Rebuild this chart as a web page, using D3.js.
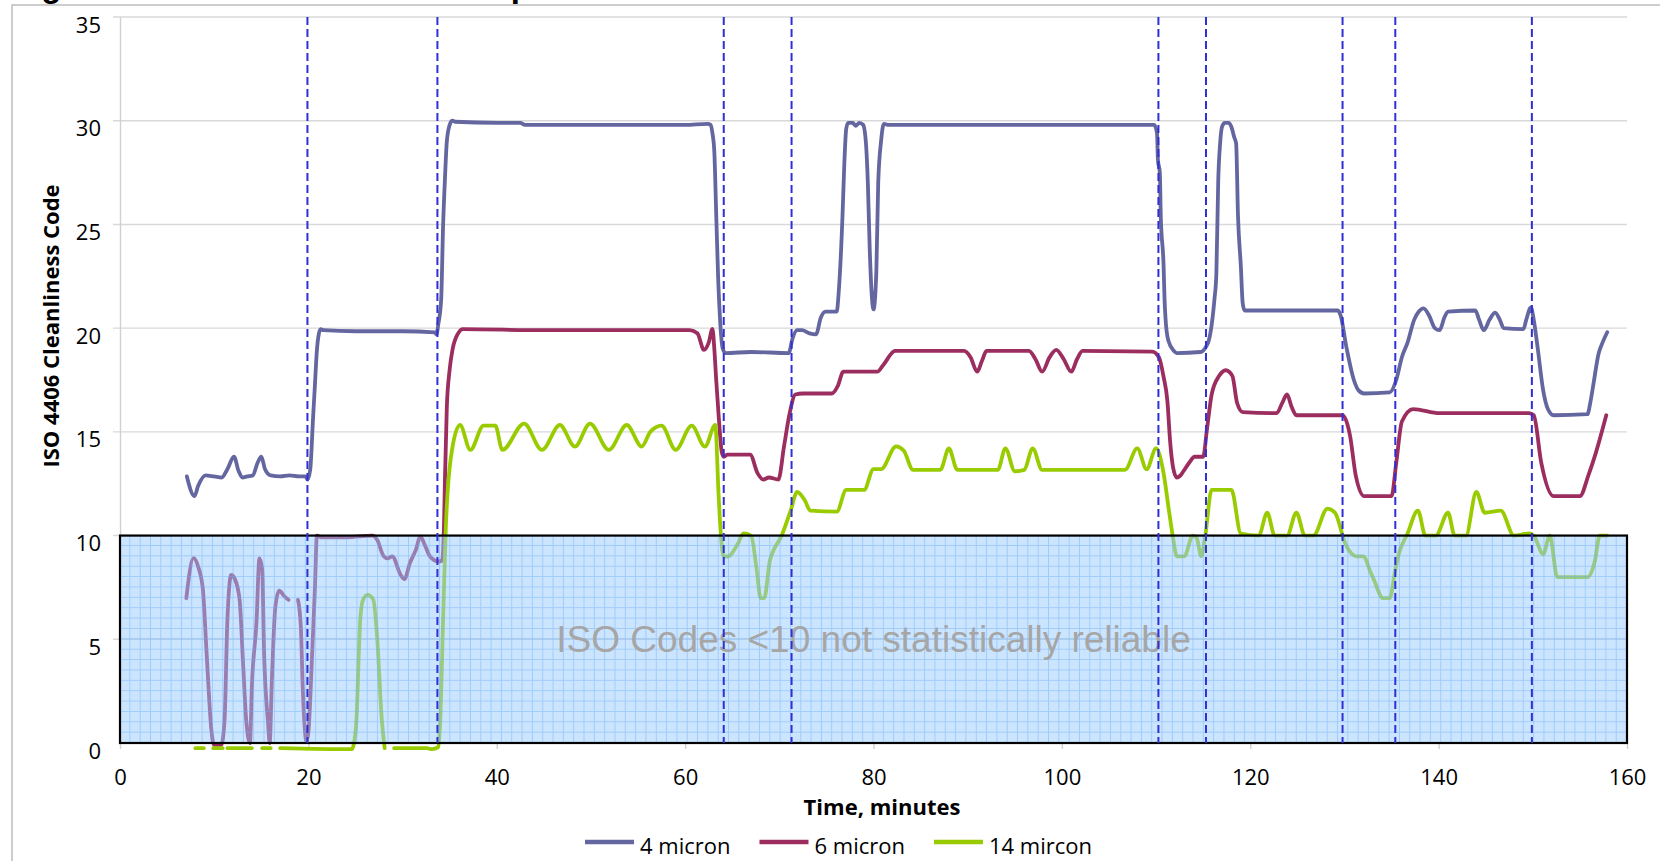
<!DOCTYPE html>
<html>
<head>
<meta charset="utf-8">
<script src="https://cdn.jsdelivr.net/npm/d3@7"></script>
<style>
  html, body { margin: 0; padding: 0; background: #fff; }
  svg { display: block; }
  .tick text { font-family: "Open Sans", sans-serif; font-size: 22px; fill: #000; }
</style>
</head>
<body>
<script>
// values
const xTicks = [0, 20, 40, 60, 80, 100, 120, 140, 160];
const yTicks = [0, 5, 10, 15, 20, 25, 30, 35];
const seriesNames = ["4 micron", "6 micron", "14 mircon"];
const seriesColors = ["#6466a0", "#9b2d5f", "#99cc00"];
const unreliableBelow = 10;
const breakTimes = [19.9, 33.7, 64.1, 71.3, 110.25, 115.3, 129.8, 135.4, 149.9];

// [time, ISO code]; null = gap in the record
const micron4 = [
  [7.1,12.85],[7.9,11.9],[8.3,12.4],[9.1,12.9],[10.0,12.85],[10.8,12.8],[11.4,13.2],[12.1,13.8],
  [12.6,13.1],[13.0,12.8],[13.5,12.85],[14.1,12.9],[14.6,13.5],[15.0,13.8],[15.4,13.2],[16.0,12.9],
  [17,12.85],[18,12.9],[19,12.85],[19.7,12.85],[19.9,12.7],[20.2,13.2],[20.5,15.7],[20.7,17.3],
  [20.9,18.9],[21.1,19.7],[21.3,19.95],[21.6,19.9],[25,19.85],[30,19.85],[33.4,19.8],[33.6,19.7],
  [33.8,20.2],[34.1,21.4],[34.3,24.9],[34.5,27.2],[34.7,29.0],[35.0,29.8],[35.3,30.0],[35.6,29.95],
  [40,29.9],[42.5,29.9],[43,29.8],[50,29.8],[60,29.8],[62.4,29.85],[62.7,29.8],[62.9,29.4],
  [63.1,28.5],[63.3,25.5],[63.5,22.5],[63.7,20.5],[64.0,19.0],[64.3,18.8],[67,18.85],[71.0,18.8],
  [71.4,19.5],[71.9,19.9],[72.4,19.9],[73.2,19.75],[73.9,19.7],[74.4,20.5],[74.9,20.8],[76.1,20.8],
  [76.3,21.7],[76.7,25.3],[76.9,27.9],[77.1,29.6],[77.3,29.9],[77.8,29.9],[78.1,29.75],[78.5,29.9],
  [78.9,29.8],[79.2,28.9],[79.4,27],[79.6,23.8],[79.8,21.7],[80.0,20.9],[80.3,22.7],[80.5,27],
  [80.8,29],[81.1,29.85],[81.5,29.8],[95,29.8],[109.8,29.8],[110.1,29.4],[110.2,28.1],[110.4,27.5],
  [110.5,25.4],[110.8,23.0],[110.9,21.4],[111.0,20.5],[111.3,19.4],[111.9,18.9],[112.2,18.8],
  [114.7,18.85],[115.3,19.1],[115.6,19.4],[116.0,20.5],[116.2,21.4],[116.4,22.6],[116.6,27.1],
  [116.8,28.9],[117.0,29.7],[117.3,29.9],[117.7,29.9],[118.0,29.7],[118.3,29.2],[118.5,28.9],
  [118.7,25.4],[119.0,23.0],[119.2,21.2],[119.4,20.85],[120,20.85],[129.3,20.85],[129.6,20.6],
  [130.2,19.1],[131.0,17.5],[131.5,17.0],[132.1,16.85],[134.8,16.9],[135.5,17.5],[136.1,18.6],
  [136.7,19.3],[137.4,20.4],[137.9,20.8],[138.4,20.95],[139.0,20.6],[139.6,20.0],[140.1,19.9],
  [140.6,20.5],[141.0,20.8],[143.9,20.85],[144.3,20.4],[144.8,19.9],[145.4,20.4],[146.0,20.75],
  [146.5,20.4],[146.9,20.0],[149.0,19.95],[149.3,20.4],[149.8,21.0],[150.1,20.4],[150.5,19.1],
  [151.1,17.0],[151.6,16.1],[152.2,15.8],[155.8,15.85],[156.1,16.4],[156.4,17.2],[157.0,18.8],
  [157.4,19.3],[157.9,19.8]
];

const micron6 = [
  [7.04,6.98],[7.8,8.91],[8.3,8.5],[8.8,7.4],[9.2,4.3],[9.7,0.64],[9.97,-0.09],[10.75,-0.09],
  [11.1,1.1],[11.4,5.9],[11.8,8.1],[12.2,7.9],[12.7,6.9],[13.05,4.0],[13.4,1.1],[13.8,0],[14.0,2.7],
  [14.5,5.9],[14.8,8.9],[15.1,8.35],[15.3,4.3],[15.7,1.1],[15.9,0],[16.1,2.7],[16.5,6.6],[16.9,7.35],
  [17.4,7.1],[17.9,6.9],
  null,
  [18.9,6.9],[19.2,5.6],[19.4,2.7],[19.8,0.08],[20.0,0.5],[20.4,4.3],[20.7,7.5],[20.9,10],
  [21.3,9.92],[24.1,9.92],[26.8,10.0],[27.3,9.8],[28.0,9.0],[28.4,8.9],[28.9,9.0],[29.8,8.1],
  [30.2,7.9],[30.8,8.7],[31.4,9.3],[31.9,9.95],[32.4,9.5],[32.9,9.0],[33.8,8.75],[34.2,8.8],
  [34.4,10.5],[34.5,12.7],[34.7,16.2],[35.0,18.0],[35.3,18.95],[35.9,19.75],[36.4,19.95],[45,19.9],
  [55,19.9],[60.5,19.9],[61.3,19.75],[62.0,18.95],[62.5,19.3],[62.9,19.96],[63.1,19.0],[63.3,17.5],
  [63.6,15.5],[63.9,14.0],[64.1,13.8],[64.5,13.9],[66.9,13.9],[67.7,13.0],[68.3,12.7],[68.9,12.8],
  [69.9,12.7],[70.5,14.3],[71.1,15.9],[71.7,16.8],[72.5,16.85],[75.6,16.85],[76.2,17.2],[76.8,17.9],
  [80.4,17.9],[81.0,18.2],[82.3,18.9],[89.6,18.9],[90.3,18.6],[91.0,17.9],[91.5,18.4],[92.0,18.9],
  [96.5,18.9],[97.2,18.5],[97.9,17.9],[98.7,18.6],[99.4,18.95],[100.2,18.5],[101.0,17.9],[101.6,18.5],
  [102.2,18.9],[109.6,18.87],[110.3,18.6],[110.8,17.65],[111.2,16.5],[111.5,14.5],[111.8,13.3],
  [112.2,12.8],[112.6,12.9],[112.9,13.1],[113.5,13.5],[114.1,13.8],[115.0,13.8],[115.4,15.1],
  [115.9,16.8],[116.7,17.7],[117.4,17.97],[118.1,17.7],[118.6,16.4],[119.2,15.95],[122.8,15.9],
  [123.4,16.4],[123.9,16.8],[124.4,16.2],[124.9,15.8],[129.8,15.8],[130.6,14.8],[131.2,12.9],
  [132.1,11.9],[135.0,11.9],[135.5,13.5],[136.1,15.5],[137.3,16.1],[140.1,15.9],[149.6,15.9],
  [150.1,15.8],[150.9,13.5],[152.2,11.9],[155.0,11.9],[155.9,12.9],[156.7,14.0],[157.8,15.8]
];

const micron14 = [
  [8.0,-0.25],[8.9,-0.25], null,
  [9.9,-0.25],[10.9,-0.25], null,
  [11.4,-0.25],[14.0,-0.25], null,
  [15.1,-0.25],[16.0,-0.25], null,
  [17.0,-0.25],[24.6,-0.3],[24.8,-0.1],[25.1,1.1],[25.5,5.9],[25.8,6.9],[26.3,7.14],[26.9,6.9],
  [27.3,5.1],[27.8,1.1],[28.1,-0.25], null,
  [29.1,-0.25],[32.6,-0.25],[33.1,-0.3],[33.8,-0.2],[34.0,1.1],[34.3,5.9],[34.6,10.5],[34.8,12.2],
  [35.25,14.13],[36.1,15.33],[37.2,14.13],[38.6,15.3],[39.85,15.3],[40.6,14.13],[42.9,15.4],
  [44.8,14.13],[46.7,15.33],[48.3,14.29],[49.9,15.4],[51.9,14.13],[53.8,15.33],[55.4,14.29],
  [56.3,15.0],[57.5,15.3],[59.0,14.13],[60.7,15.3],[62.1,14.29],[63.2,15.33],[63.55,12.0],
  [63.8,10.0],[64.1,8.99],[64.5,8.99],[65.6,9.6],[66.2,10.1],[67.0,10.0],[67.6,8.35],[68.0,7.0],
  [68.4,6.98],[69.0,8.8],[69.4,9.3],[70.2,9.95],[71.2,11.2],[71.9,12.1],[72.7,11.7],[73.3,11.2],
  [76.1,11.15],[77.1,12.2],[79.0,12.2],[80.0,13.2],[80.8,13.2],[82.4,14.3],[83.2,14.1],[84.2,13.17],
  [87.1,13.17],[88.0,14.2],[88.9,13.17],[93.2,13.17],[94.0,14.2],[95.0,13.1],[96.0,13.17],[96.9,14.2],
  [97.9,13.17],[106.7,13.17],[108.0,14.2],[109.0,13.2],[110.0,14.2],[110.8,13.0],[111.4,11.1],
  [111.8,9.9],[112.2,9.0],[113.0,9.0],[113.9,10.0],[114.3,9.9],[114.8,9.0],[115.2,9.9],[115.9,12.2],
  [118.0,12.2],[119.0,10.1],[120.9,10.0],[121.8,11.1],[122.6,10.0],[123.9,10.0],[124.9,11.1],
  [125.8,10.0],[126.7,10.0],[128.2,11.3],[129.0,11.1],[130.1,9.6],[131.3,9.0],[132.0,9.0],
  [132.8,8.2],[133.1,7.9],[134.1,6.98],[134.8,6.98],[135.4,8.35],[135.7,9.0],[136.7,10.1],
  [137.8,11.2],[138.6,10.0],[139.7,10.0],[141.0,11.1],[141.7,10.0],[142.9,10.0],[144.0,12.1],
  [144.9,11.1],[146.6,11.2],[148.0,10.0],[149.6,10.1],[150.1,10.0],[151.1,9.1],[151.8,10.0],
  [152.6,8.0],[153.1,8.0],[155.8,8.0],[156.6,8.8],[157.1,10.0],[157.9,10.0]
];

const seriesData = [micron4, micron6, micron14];

// layout
const width = 1660, height = 861;
const margin = { top: 17, right: 33, bottom: 118, left: 120 };

const svg = d3.select("body").append("svg")
    .attr("width", width)
    .attr("height", height);

svg.append("rect").attr("width", width).attr("height", height).attr("fill", "#fff");

// outer chart frame (only top and left edges show)
svg.append("rect")
    .attr("x", 12).attr("y", 5)
    .attr("width", width).attr("height", height)
    .attr("fill", "none")
    .attr("stroke", "#bdbdbd")
    .attr("stroke-width", 1.5);

// title, mostly cut off at the top of the picture as in the reference
svg.append("text")
    .attr("x", 12).attr("y", -3)
    .style("font-family", "'Liberation Sans', Arial, sans-serif")
    .style("font-weight", "bold")
    .style("font-size", "33px")
    .text("Figure 5: ISO Cleanliness Code per Particle Size");

const x = d3.scaleLinear().domain([0, 160]).range([margin.left, width - margin.right]);
const y = d3.scaleLinear().domain([0, 35]).range([height - margin.bottom, margin.top]);

// horizontal gridlines (they also act as the y tick marks)
svg.append("g")
    .selectAll("line")
    .data(yTicks.filter(d => d > 0))
    .enter()
    .append("line")
      .attr("x1", x(0) - 7)
      .attr("x2", x(160))
      .attr("y1", d => y(d))
      .attr("y2", d => y(d))
      .attr("stroke", "#d9d9d9")
      .attr("stroke-width", 1.4);

// y axis
const yAxisG = svg.append("g")
    .attr("transform", `translate(${x(0)},0)`)
    .call(d3.axisLeft(y).tickValues(yTicks).tickSize(0).tickSizeOuter(0).tickPadding(19));
yAxisG.select(".domain").attr("stroke", "#d0d0d0").attr("stroke-width", 1.4);
yAxisG.selectAll(".tick text").attr("y", 8);

// x axis
const xAxisG = svg.append("g")
    .attr("transform", `translate(0,${y(0)})`)
    .call(d3.axisBottom(x).tickValues(xTicks).tickSize(6).tickSizeOuter(0).tickPadding(20));
xAxisG.select(".domain").remove();
xAxisG.selectAll(".tick line").attr("stroke", "#d0d0d0").attr("stroke-width", 1.4);

// series lines
const line = d3.line()
    .defined(d => d !== null)
    .x(d => x(d[0]))
    .y(d => y(d[1]))
    .curve(d3.curveMonotoneX);

svg.append("g")
    .selectAll("path")
    .data(seriesData)
    .enter()
    .append("path")
      .attr("d", line)
      .attr("fill", "none")
      .attr("stroke", (d, i) => seriesColors[i])
      .attr("stroke-width", 3.8)
      .attr("stroke-linejoin", "round")
      .attr("stroke-linecap", "round");

// shaded "not reliable" band, drawn over the lines so they look washed out
const defs = svg.append("defs");
const cellW = (x(160) - x(0)) / 146, cellH = (y(0) - y(unreliableBelow)) / 20;
defs.append("pattern")
    .attr("id", "paper")
    .attr("patternUnits", "userSpaceOnUse")
    .attr("x", x(0)).attr("y", y(unreliableBelow))
    .attr("width", cellW).attr("height", cellH)
  .append("path")
    .attr("d", `M${cellW - 0.5},0V${cellH}M0,${cellH - 0.5}H${cellW}`)
    .attr("stroke", "rgba(105,170,245,0.45)")
    .attr("stroke-width", 1)
    .attr("fill", "none");

const band = svg.append("g");
band.append("rect")
    .attr("x", x(0)).attr("y", y(unreliableBelow))
    .attr("width", x(160) - x(0)).attr("height", y(0) - y(unreliableBelow))
    .attr("fill", "rgba(153,203,255,0.5)");
band.append("rect")
    .attr("x", x(0)).attr("y", y(unreliableBelow))
    .attr("width", x(160) - x(0)).attr("height", y(0) - y(unreliableBelow))
    .attr("fill", "url(#paper)");
band.append("rect")
    .attr("x", x(0)).attr("y", y(unreliableBelow))
    .attr("width", x(160) - x(0)).attr("height", y(0) - y(unreliableBelow))
    .attr("fill", "none")
    .attr("stroke", "#000")
    .attr("stroke-width", 2.2);

band.append("text")
    .attr("x", x(80))
    .attr("y", y(5) + 13)
    .attr("fill", "#a6a6a6")
    .style("text-anchor", "middle")
    .style("font-family", "'Liberation Sans', Arial, sans-serif")
    .style("font-size", "37px")
    .text("ISO Codes <10 not statistically reliable");

// vertical dashed markers
svg.append("g")
    .selectAll("line")
    .data(breakTimes)
    .enter()
    .append("line")
      .attr("x1", d => x(d))
      .attr("x2", d => x(d))
      .attr("y1", y(35))
      .attr("y2", y(0))
      .attr("stroke", "#2f2fd8")
      .attr("stroke-width", 2)
      .attr("stroke-dasharray", "8,4");

// axis titles
svg.append("text")
    .attr("x", 882)
    .attr("y", 815)
    .style("text-anchor", "middle")
    .style("font-family", "'Open Sans', sans-serif")
    .style("font-weight", "bold")
    .style("font-size", "22px")
    .text("Time, minutes");

svg.append("text")
    .attr("transform", "translate(59,326) rotate(-90)")
    .style("text-anchor", "middle")
    .style("font-family", "'Open Sans', sans-serif")
    .style("font-weight", "bold")
    .style("font-size", "22px")
    .text("ISO 4406 Cleanliness Code");

// legend
const legend = svg.append("g").attr("transform", "translate(585,0)");
let legendX = 0;
seriesNames.forEach(function (name, i) {
    legend.append("line")
        .attr("x1", legendX).attr("x2", legendX + 49)
        .attr("y1", 842).attr("y2", 842)
        .attr("stroke", seriesColors[i])
        .attr("stroke-width", 4.5);
    const t = legend.append("text")
        .attr("x", legendX + 55)
        .attr("y", 854)
        .style("font-family", "'Open Sans', sans-serif")
        .style("font-size", "22px")
        .text(name);
    legendX += 55 + t.node().getComputedTextLength() + 29;
});
</script>
</body>
</html>
